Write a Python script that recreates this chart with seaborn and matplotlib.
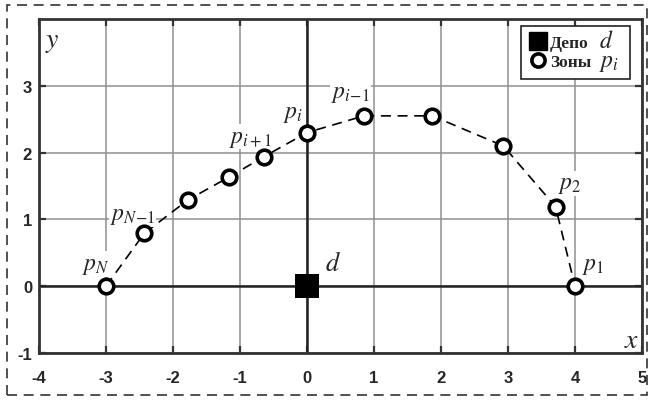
import matplotlib
matplotlib.use("Agg")
import matplotlib.pyplot as plt
import seaborn as sns
import pandas as pd
from matplotlib.patches import Rectangle
from matplotlib.lines import Line2D

# ---- data ----
zone_x = [-3.0, -2.43, -1.78, -1.17, -0.64, 0.0, 0.85, 1.87, 2.93, 3.71, 4.0]
zone_y = [0.0, 0.79, 1.29, 1.63, 1.94, 2.30, 2.55, 2.55, 2.10, 1.19, 0.0]
depot_x = [0.0]
depot_y = [0.0]
x_ticks = [-4, -3, -2, -1, 0, 1, 2, 3, 4, 5]
y_ticks = [-1, 0, 1, 2, 3]
point_labels = [r"$p_N$", r"$p_{N\!-\!1}$", r"$p_{i+1}$", r"$p_i$", r"$p_{i\!-\!1}$", r"$p_2$", r"$p_1$"]
point_label_pos = [(-3.15, 0.15), (-2.6, 0.9), (-0.84, 2.06), (-0.21, 2.43), (0.65, 2.73), (3.92, 1.36), (4.27, 0.15)]
legend_labels = ["Депо", "Зоны"]
legend_symbols = [r"$d$", r"$p_i$"]

sns.set_style("white")
plt.rcParams["mathtext.fontset"] = "stix"
plt.rcParams["axes.unicode_minus"] = False

fig = plt.figure(figsize=(6.53, 4.02), dpi=100)
ax = fig.add_axes([39/653, 1-354/402, (642-39)/653, (354-20)/402])

zones = pd.DataFrame({"x": zone_x, "y": zone_y})
depot = pd.DataFrame({"x": depot_x, "y": depot_y})

# grid and zero lines
for xv in x_ticks:
    ax.axvline(xv, color="#8f8f8f", lw=1.1, zorder=0)
for yv in y_ticks:
    ax.axhline(yv, color="#8f8f8f", lw=1.1, zorder=0)
ax.axhline(0, color="#222222", lw=1.8, zorder=1)
ax.axvline(0, color="#222222", lw=1.8, zorder=1)

sns.lineplot(data=zones, x="x", y="y", sort=False, ax=ax, color="black",
             lw=1.2, dashes=False, zorder=2, estimator=None)
ax.lines[-1].set_linestyle((0, (6, 4)))
sns.scatterplot(data=zones, x="x", y="y", ax=ax, s=110, marker="o",
                facecolor="white", edgecolor="black", linewidth=2.6, zorder=4)
sns.scatterplot(data=depot, x="x", y="y", ax=ax, s=300, marker="s",
                color="black", edgecolor="black", linewidth=0, zorder=4)

for lab, (px, py) in zip(point_labels, point_label_pos):
    ax.text(px, py, lab, ha="center", va="bottom", fontsize=17,
            bbox=dict(fc="white", ec="none", pad=0.5), zorder=3)
ax.text(0.39, 0.15, r"$d$", ha="center", va="bottom", fontsize=19, zorder=3)
ax.text(-3.8, 3.9, r"$y$", ha="center", va="top", fontsize=20, zorder=3)
ax.text(4.84, -0.58, r"$x$", ha="center", va="top", fontsize=20, zorder=3)

ax.set_xlim(-4, 5)
ax.set_ylim(-1, 4)
ax.set_xticks(x_ticks)
ax.set_yticks(y_ticks)
ax.set_xticklabels([str(t) for t in x_ticks])
ax.set_yticklabels([str(t) for t in y_ticks])
ax.set_xlabel("")
ax.set_ylabel("")
for lab in ax.get_xticklabels() + ax.get_yticklabels():
    lab.set_fontfamily("Liberation Sans")
    lab.set_fontweight("bold")
    lab.set_fontsize(12)
ax.tick_params(direction="in", length=5, width=1.6, top=True, right=True,
               bottom=True, left=True, color="#333333")
ax.tick_params(axis="x", pad=12)
ax.tick_params(axis="y", pad=5)
for sp in ax.spines.values():
    sp.set_visible(True)
    sp.set_color("#333333")
    sp.set_linewidth(2.0)

blank = Line2D([], [], ls="none")
handles = [
    Line2D([], [], marker="s", color="black", ls="none", markersize=12.5),
    Line2D([], [], marker="o", markerfacecolor="white", markeredgecolor="black",
           markeredgewidth=2.6, ls="none", markersize=9.5),
    blank, blank,
]
leg = ax.legend(handles, legend_labels + ["", ""], ncol=2, loc="upper right",
                bbox_to_anchor=(0.980, 0.979), borderaxespad=0, frameon=True,
                fancybox=False, borderpad=0.5, handletextpad=0.15,
                handlelength=1.0, labelspacing=0.2, columnspacing=0.6,
                prop={"family": "Liberation Serif", "weight": "bold", "size": 12.5})
leg.get_frame().set_edgecolor("#222222")
leg.get_frame().set_linewidth(1.2)
leg.get_frame().set_alpha(1)
leg.set_zorder(6)

# symbols next to legend labels, aligned to each legend row's baseline
fig.canvas.draw()
frame_bb = leg.get_frame().get_window_extent()
inv = ax.transAxes.inverted()
for txt, sym, dx in zip(leg.get_texts()[:2], legend_symbols, [23.5, 21.0]):
    bx, by = txt.get_transform().transform(txt.get_position())
    ax_x, ax_y = inv.transform((frame_bb.x1 - dx, by))
    ax.text(ax_x, ax_y, sym, transform=ax.transAxes, ha="center",
            va="baseline", fontsize=17, zorder=7)

# dashed figure border
fig.add_artist(Rectangle((7/653, 6/402), (647-7)/653, (396-6)/402,
                         transform=fig.transFigure, fill=False,
                         ec="#333333", lw=1.2, ls=(0, (6, 4))))

fig.savefig("out.png", dpi=100)
